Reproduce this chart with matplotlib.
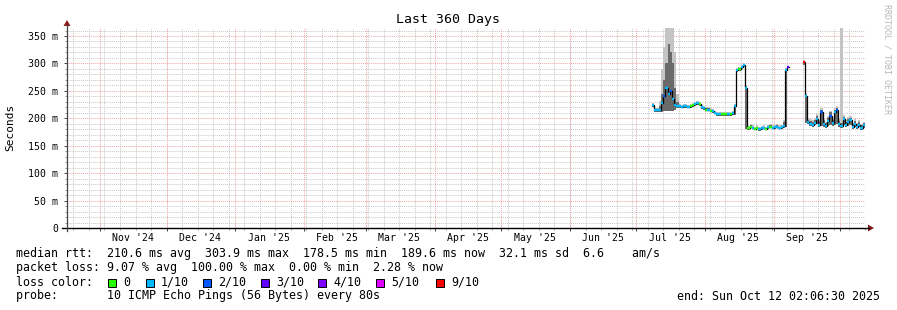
import numpy as np
import pandas as pd
import matplotlib
matplotlib.use("Agg")
import matplotlib.pyplot as plt
import matplotlib.dates as mdates
from matplotlib.patches import Rectangle
from matplotlib.transforms import blended_transform_factory
from datetime import datetime, timedelta

nan = np.nan
W, H = 897, 310

# ---------------- data ----------------
range_start = datetime(2024, 10, 17, 2, 6, 30)
range_end = datetime(2025, 10, 12, 2, 6, 30)
first_day = "2025-07-08"

median_ms = [224, 215, 215, 216, 228, 240, 255, 245, 250, 235,
             224, 222, 222, 221, 222, 222, 221, 222, 224, 226,
             228, 226, 220, 218, 216, 216, 214, 213, 210, 208,
             208, 207, 208, 208, 207, 208, 209, 222, 288, 290,
             293, 297, 255, 182, 185, 183, 181, 183, 180, 182,
             183, 181, 184, 185, 183, 184, 185, 183, 184, 186,
             288, 293, nan, nan, nan, nan, nan, nan, 302, 240,
             194, 190, 188, 192, 198, 188, 212, 190, 186, 195,
             205, 192, 212, 216, 190, 186, 198, 188, 194, 196,
             185, 190, 184, 188, 182, 188]

smoke_hi_ms = [228, 219, 219, 232, 290, 330, 370, 370, 370, 370,
               320, 245, 226, 225, 226, 226, 225, 226, 228, 230,
               232, 230, 224, 222, 220, 220, 218, 217, 214, 212,
               212, 211, 212, 212, 211, 212, 213, 226, 292, 294,
               297, 301, 260, 186, 189, 187, 185, 187, 184, 186,
               188, 185, 188, 189, 187, 188, 189, 187, 188, 196,
               292, 297, nan, nan, nan, nan, nan, nan, 307, 246,
               200, 198, 196, 200, 208, 196, 218, 200, 194, 204,
               214, 200, 218, 222, 198, 370, 206, 196, 202, 204,
               192, 198, 192, 196, 190, 194]

smoke_mid_ms = [226, 217, 217, 222, 245, 270, 300, 335, 320, 300,
                255, 230, 224, 223, 224, 224, 223, 224, 226, 228,
                230, 228, 222, 220, 218, 218, 216, 215, 212, 210,
                210, 209, 210, 210, 209, 210, 211, 224, 290, 292,
                295, 299, 258, 184, 187, 185, 183, 185, 182, 184,
                185, 183, 186, 187, 185, 186, 187, 185, 186, 194,
                290, 295, nan, nan, nan, nan, nan, nan, 305, 243,
                197, 195, 193, 197, 205, 193, 215, 197, 191, 201,
                211, 197, 215, 219, 195, 192, 203, 193, 199, 201,
                189, 195, 189, 193, 187, 191]

smoke_lo_ms = [221, 212, 212, 212, 212, 213, 214, 214, 214, 214,
               215, 218, 219, 218, 219, 219, 218, 219, 221, 223,
               225, 223, 217, 215, 213, 213, 211, 210, 207, 205,
               205, 204, 205, 205, 204, 205, 206, 206, 285, 287,
               290, 293, 181, 179, 182, 180, 178, 180, 177, 179,
               180, 178, 181, 182, 180, 181, 182, 180, 181, 183,
               185, 290, nan, nan, nan, nan, nan, nan, 298, 192,
               190, 186, 184, 187, 190, 184, 186, 185, 182, 186,
               188, 186, 188, 190, 185, 182, 187, 184, 186, 187,
               181, 185, 180, 184, 179, 183]

loss_idx = [1, 1, 1, 1, 1, 2, 1, 1, 2, 1,
            1, 1, 1, 1, 1, 1, 1, 0, 0, 1,
            1, 0, 1, 1, 0, 1, 0, 1, 1, 1,
            1, 0, 0, 0, 1, 0, 1, 1, 1, 0,
            1, 1, 1, 0, 0, 1, 0, 0, 1, 1,
            1, 0, 1, 0, 1, 1, 1, 1, 1, 1,
            1, 3, 1, 1, 1, 1, 1, 1, 6, 1,
            1, 1, 1, 1, 1, 1, 2, 1, 1, 1,
            2, 1, 1, 2, 1, 1, 1, 1, 1, 1,
            1, 1, 1, 1, 1, 1]

loss_labels = ["0", "1/10", "2/10", "3/10", "4/10", "5/10", "9/10"]
loss_colors = ["#26ff00", "#00b8ff", "#0059ff", "#5e00ff", "#7e00ff", "#dd00ff", "#ff0000"]

month_labels = ["Nov '24", "Dec '24", "Jan '25", "Feb '25", "Mar '25", "Apr '25",
                "May '25", "Jun '25", "Jul '25", "Aug '25", "Sep '25"]
y_major = [0, 50, 100, 150, 200, 250, 300, 350]
y_labels = ["0", "50 m", "100 m", "150 m", "200 m", "250 m", "300 m", "350 m"]

title = "Last 360 Days"
legend_lines = [
    "median rtt:  210.6 ms avg  303.9 ms max  178.5 ms min  189.6 ms now  32.1 ms sd  6.6    am/s",
    "packet loss: 9.07 % avg  100.00 % max  0.00 % min  2.28 % now",
    "loss color:",
    "probe:       10 ICMP Echo Pings (56 Bytes) every 80s",
]
end_text = "end: Sun Oct 12 02:06:30 2025"

# ---------------- figure ----------------
MONO = "DejaVu Sans Mono"
plt.rcParams["font.family"] = MONO

fig = plt.figure(figsize=(W / 100, H / 100), dpi=100)
fig.patch.set_facecolor("white")

def fx(px):
    return px / W

def fy(py):
    return 1 - py / H

ax_left, ax_right, ax_bottom, ax_top = 67, 865, 228, 28
ax = fig.add_axes([fx(ax_left), fy(ax_bottom), (ax_right - ax_left) / W, (ax_bottom - ax_top) / H])
ax.set_facecolor("white")
ymax = 200 * 350 / 192.0
ax.set_ylim(0, ymax)
ax.set_xlim(mdates.date2num(range_start), mdates.date2num(range_end))

# grid
month_starts = pd.date_range("2024-11-01", "2025-10-01", freq="MS")
sundays = pd.date_range("2024-10-20", "2025-10-12", freq="7D")
for d in sundays:
    ax.axvline(mdates.date2num(d), color="#c8c8c8", lw=0.7, ls=(0, (1, 1)), zorder=0)
for v in np.arange(10, 370, 10):
    if v % 50:
        ax.axhline(v, color="#c8c8c8", lw=0.7, ls=(0, (1, 1)), zorder=0)
for d in month_starts:
    ax.axvline(mdates.date2num(d), color="#f2a4a4", lw=0.7, ls=(0, (1, 1)), zorder=0.5)
for v in y_major[1:]:
    ax.axhline(v, color="#f2a4a4", lw=0.7, ls=(0, (1, 1)), zorder=0.5)

# data
days = pd.date_range(first_day, periods=len(median_ms), freq="D")
x_edges = mdates.date2num(list(days) + [days[-1] + pd.Timedelta(days=1)])
med = np.array(median_ms, dtype=float)
hi = np.array(smoke_hi_ms, dtype=float)
mid = np.array(smoke_mid_ms, dtype=float)
lo = np.array(smoke_lo_ms, dtype=float)

def ext(a):
    return np.append(a, a[-1])

ax.fill_between(x_edges, ext(lo), ext(hi), step="post", color="#c4c4c4", lw=0, zorder=2)
ax.fill_between(x_edges, ext(lo), ext(mid), step="post", color="#6a6a6a", lw=0, zorder=2.5)
ax.step(x_edges, ext(med), where="post", color="black", lw=0.9, zorder=3)
for i, v in enumerate(med):
    if np.isnan(v):
        continue
    ax.hlines(v, x_edges[i], x_edges[i + 1], colors=loss_colors[loss_idx[i]], lw=1.7, zorder=4)

# axes / ticks
for s in ax.spines.values():
    s.set_visible(False)
ax.set_yticks(y_major)
ax.set_yticklabels(y_labels)
ax.set_yticks(np.arange(0, 370, 10), minor=True)
ax.set_xticks(mdates.date2num(month_starts))
ax.set_xticklabels([])
ax.set_xticks(mdates.date2num(sundays), minor=True)
ax.tick_params(axis="y", which="major", length=2.5, width=0.7, color="#444444",
               labelsize=7.1, pad=4)
ax.tick_params(axis="y", which="minor", length=1.5, width=0.6, color="#888888")
ax.tick_params(axis="x", which="major", length=2.5, width=0.7, color="#444444")
ax.tick_params(axis="x", which="minor", length=1.5, width=0.6, color="#888888")

trans = blended_transform_factory(ax.transData, ax.transAxes)
for lab, d in zip(month_labels, month_starts[:len(month_labels)]):
    ax.text(mdates.date2num(d + pd.Timedelta(days=15)), -0.048, lab, transform=trans,
            ha="center", va="center", fontsize=7.1, color="black")

# axis lines and arrows
fig.add_artist(plt.Line2D([fx(62), fx(869)], [fy(228), fy(228)], color="black", lw=1.0))
fig.add_artist(plt.Line2D([fx(67), fx(67)], [fy(231), fy(25)], color="#444444", lw=0.9))
fig.add_artist(plt.Polygon([[fx(868), fy(224.5)], [fx(868), fy(231.5)], [fx(874), fy(228)]],
                           closed=True, color="#8b1a1a", lw=0))
fig.add_artist(plt.Polygon([[fx(63.5), fy(26)], [fx(70.5), fy(26)], [fx(67), fy(20)]],
                           closed=True, color="#8b1a1a", lw=0))

# texts
fig.text(fx(448), fy(19), title, ha="center", va="center", fontsize=9.5, color="black")
fig.text(fx(10), fy(127), "Seconds", rotation=90, ha="center", va="center", fontsize=8)
fig.text(fx(887), fy(59), "RRDTOOL / TOBI OETIKER", rotation=270, ha="center", va="center",
         fontsize=6.0, color="#b8b8b8")

baselines = [257.5, 271.5, 285.5, 299.5]
for line, yb in zip(legend_lines, baselines):
    fig.text(fx(16), fy(yb), line, ha="left", va="baseline", fontsize=8.4, color="black")
fig.text(fx(880), fy(baselines[3]), end_text, ha="right", va="baseline", fontsize=8.4, color="black")

box_x = [108, 146, 203, 261, 318, 376, 436]
for bx, lab, col in zip(box_x, loss_labels, loss_colors):
    fig.add_artist(Rectangle((fx(bx), fy(286.5)), 8 / W, 8 / H, facecolor=col,
                             edgecolor="black", lw=0.7))
    fig.text(fx(bx + 15), fy(baselines[2]), lab, ha="left", va="baseline", fontsize=8.4)

fig.savefig("out.png", dpi=100, facecolor="white")
